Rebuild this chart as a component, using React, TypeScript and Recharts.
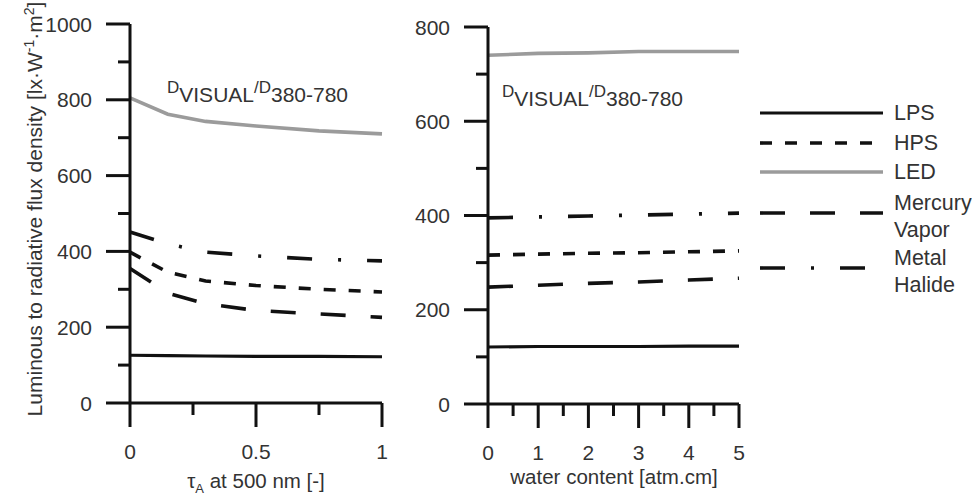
import { LineChart, Line, XAxis, YAxis } from 'recharts';

// left panel: aerosol optical depth
const tauA = [0, 0.15, 0.3, 0.5, 0.75, 1];
const lpsTau = [126, 125, 124, 123, 123, 122];
const hpsTau = [398, 345, 322, 310, 300, 293];
const ledTau = [805, 762, 743, 731, 718, 710];
const mercuryTau = [355, 290, 262, 244, 235, 226];
const halideTau = [451, 420, 398, 388, 379, 375];

// right panel: water content
const water = [0, 1, 2, 3, 4, 5];
const lpsW = [121, 122, 122, 122, 123, 123];
const hpsW = [316, 318, 320, 321, 323, 325];
const ledW = [740, 744, 745, 748, 748, 748];
const mercuryW = [248, 252, 256, 259, 263, 267];
const halideW = [395, 397, 399, 401, 403, 405];

const leftYTicks = [0, 100, 200, 300, 400, 500, 600, 700, 800, 900, 1000];
const leftXTicks = [0, 0.25, 0.5, 0.75, 1];
const rightYTicks = [0, 100, 200, 300, 400, 500, 600, 700, 800];
const rightXTicks = [0, 0.5, 1, 1.5, 2, 2.5, 3, 3.5, 4, 4.5, 5];

const FONT = '"Liberation Sans", Arial, sans-serif';

const series = [
  { key: 'lps', name: ['LPS'], color: '#111', dash: undefined, width: 3.2 },
  { key: 'hps', name: ['HPS'], color: '#111', dash: '12 13', width: 3.6 },
  { key: 'led', name: ['LED'], color: '#9b9b9b', dash: undefined, width: 3.6 },
  { key: 'mercury', name: ['Mercury', 'Vapor'], color: '#111', dash: '25 25', width: 3.6 },
  { key: 'halide', name: ['Metal', 'Halide'], color: '#111', dash: '25 26 3 26', width: 3.6 },
];

const leftData = tauA.map((t, i) => ({
  x: t,
  lps: lpsTau[i],
  hps: hpsTau[i],
  led: ledTau[i],
  mercury: mercuryTau[i],
  halide: halideTau[i],
}));

const rightData = water.map((w, i) => ({
  x: w,
  lps: lpsW[i],
  hps: hpsW[i],
  led: ledW[i],
  mercury: mercuryW[i],
  halide: halideW[i],
}));

const XTick = ({ x, y, payload, major }: any) => {
  const isMajor = major(payload.value);
  return (
    <g>
      <line x1={x} x2={x} y1={y} y2={y + (isMajor ? 24 : 12)} stroke="#111" strokeWidth={3} />
      {isMajor && (
        <text x={x} y={y + 56} textAnchor="middle" fontSize={21} fill="#333" fontFamily={FONT}>
          {payload.value}
        </text>
      )}
    </g>
  );
};

const YTick = ({ x, y, payload, major }: any) => {
  const isMajor = major(payload.value);
  return (
    <g>
      <line x1={x - (isMajor ? 24 : 12)} x2={x} y1={y} y2={y} stroke="#111" strokeWidth={3} />
      {isMajor && (
        <text x={x - 38} y={y} dy="0.36em" textAnchor="end" fontSize={21} fill="#333" fontFamily={FONT}>
          {payload.value}
        </text>
      )}
    </g>
  );
};

const renderLines = () =>
  series.map(s => (
    <Line
      key={s.key}
      dataKey={s.key}
      type="linear"
      stroke={s.color}
      strokeWidth={s.width}
      strokeDasharray={s.dash}
      dot={false}
      isAnimationActive={false}
    />
  ));

const legendRows = [113, 143, 172, 213, 268];

const RatioLabel = ({ x, y }: { x: number; y: number }) => (
  <text x={x} y={y} fontSize={21} fill="#333">
    <tspan fontSize={17} dy={-9}>D</tspan>
    <tspan dy={9}>VISUAL</tspan>
    <tspan fontSize={17} dy={-9}>/D</tspan>
    <tspan dy={9}>380-780</tspan>
  </text>
);

export default function App() {
  return (
    <div style={{ position: 'absolute', left: 0, top: 0, width: 972, height: 495, background: '#fff' }}>
      <div style={{ position: 'absolute', left: 0, top: 0 }}>
        <LineChart width={400} height={495} data={leftData} margin={{ top: 24, right: 18, bottom: 0, left: 0 }}>
          <XAxis
            dataKey="x"
            type="number"
            domain={[0, 1]}
            ticks={leftXTicks}
            interval={0}
            height={92}
            tickSize={0}
            tickMargin={0}
            axisLine={{ stroke: '#111', strokeWidth: 3 }}
            tickLine={false}
            tick={(p: any) => <XTick {...p} major={(v: number) => v === 0 || v === 0.5 || v === 1} />}
          />
          <YAxis
            type="number"
            domain={[0, 1000]}
            ticks={leftYTicks}
            interval={0}
            width={130}
            tickSize={0}
            tickMargin={0}
            axisLine={{ stroke: '#111', strokeWidth: 3 }}
            tickLine={false}
            tick={(p: any) => <YTick {...p} major={(v: number) => v % 200 === 0} />}
          />
          {renderLines()}
        </LineChart>
      </div>
      <div style={{ position: 'absolute', left: 400, top: 0 }}>
        <LineChart width={360} height={495} data={rightData} margin={{ top: 27, right: 21, bottom: 0, left: 0 }}>
          <XAxis
            dataKey="x"
            type="number"
            domain={[0, 5]}
            ticks={rightXTicks}
            interval={0}
            height={91}
            tickSize={0}
            tickMargin={0}
            axisLine={{ stroke: '#111', strokeWidth: 3 }}
            tickLine={false}
            tick={(p: any) => <XTick {...p} major={(v: number) => Number.isInteger(v)} />}
          />
          <YAxis
            type="number"
            domain={[0, 800]}
            ticks={rightYTicks}
            interval={0}
            width={88}
            tickSize={0}
            tickMargin={0}
            axisLine={{ stroke: '#111', strokeWidth: 3 }}
            tickLine={false}
            tick={(p: any) => <YTick {...p} major={(v: number) => v % 200 === 0} />}
          />
          {renderLines()}
        </LineChart>
      </div>
      <svg width={972} height={495} style={{ position: 'absolute', left: 0, top: 0, pointerEvents: 'none' }} fontFamily={FONT}>
        {/* y axis title */}
        <text transform="translate(42,209) rotate(-90)" textAnchor="middle" fontSize={21} fill="#333">
          Luminous to radiative flux density [lx·W
          <tspan dy={-8} fontSize={14}>-1</tspan>
          <tspan dy={8}>·m</tspan>
          <tspan dy={-8} fontSize={14}>2</tspan>
          <tspan dy={8}>]</tspan>
        </text>
        {/* x axis titles */}
        <text x={256} y={488} textAnchor="middle" fontSize={20.5} fill="#333">
          τ<tspan dy={5} fontSize={13}>A</tspan>
          <tspan dy={-5}> at 500 nm [-]</tspan>
        </text>
        <text x={614} y={484} textAnchor="middle" fontSize={20.5} fill="#333">water content [atm.cm]</text>
        {/* ratio labels */}
        <RatioLabel x={167} y={102} />
        <RatioLabel x={502} y={106} />
        {/* legend */}
        {series.map((s, i) => {
          const ly = legendRows[i];
          return (
            <g key={s.key}>
              <line x1={760} x2={s.key === 'halide' ? 868 : 883} y1={ly} y2={ly} stroke={s.color} strokeWidth={s.width} strokeDasharray={s.dash} />
              {s.name.map((t, j) => (
                <text key={t} x={894} y={s.name.length > 1 ? ly - 3 + j * 27 : ly + 7} fontSize={21.5} fill="#333">{t}</text>
              ))}
            </g>
          );
        })}
      </svg>
    </div>
  );
}
